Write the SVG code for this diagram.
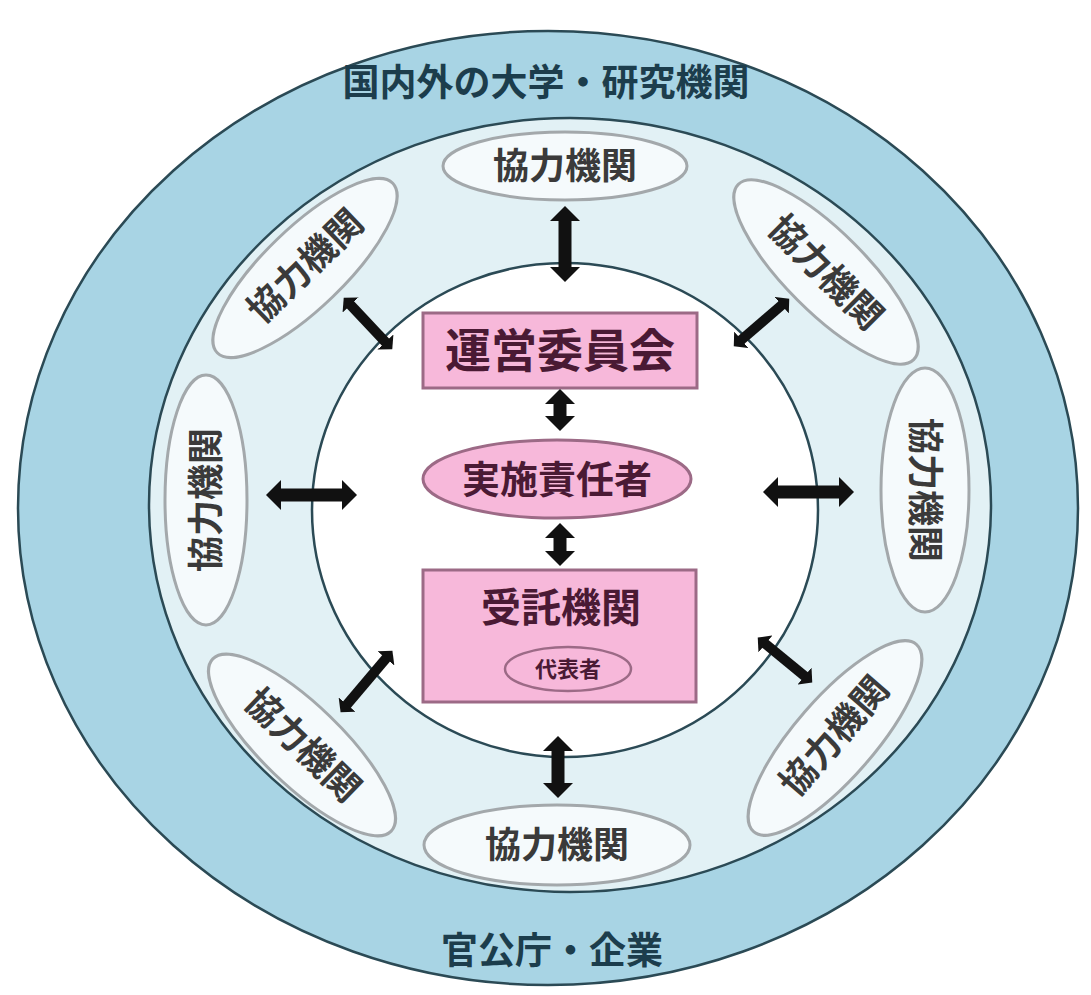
<svg xmlns="http://www.w3.org/2000/svg" width="1091" height="995" viewBox="0 0 1091 995">
<style>
.ring{stroke:#2b4a55;stroke-width:2.5}
.sat{fill:#f5fafc;stroke:#a3a8ab;stroke-width:3}
.satt{font-family:"Noto Sans CJK JP",sans-serif;font-size:36px;font-weight:bold;fill:#3a3a3a;text-anchor:middle}
.ot{font-family:"Noto Sans CJK JP",sans-serif;font-size:37px;font-weight:bold;fill:#1c3d4c;text-anchor:middle}
.pk{fill:#f7b8da;stroke:#9c6a86;stroke-width:3}
.pt{font-family:"Noto Sans CJK JP",sans-serif;font-weight:bold;fill:#4a1a34;text-anchor:middle}
.ar{stroke:#111;stroke-width:13;fill:none}
.ard{stroke:#111;stroke-width:10;fill:none}
</style>
<defs>
<marker id="ah" markerUnits="userSpaceOnUse" markerWidth="16" markerHeight="30" refX="1" refY="15" orient="auto-start-reverse"><path d="M0,0 L15,15 L0,30 z" fill="#111"/></marker>
<marker id="ahs" markerUnits="userSpaceOnUse" markerWidth="11" markerHeight="22" refX="1" refY="11" orient="auto-start-reverse"><path d="M0,0 L10,11 L0,22 z" fill="#111"/></marker>
</defs>
<rect width="1091" height="995" fill="#ffffff"/>
<g id="outer">
<ellipse cx="548" cy="508" rx="530" ry="477" fill="#a8d4e4" class="ring"/>
<text class="ot" x="546" y="96">国内外の大学・研究機関</text>
<text class="ot" x="552" y="964">官公庁・企業</text>
</g>
<g id="middle">
<ellipse cx="570" cy="505" rx="421" ry="387" fill="#e2f1f5" class="ring"/>
</g>
<g id="inner">
<ellipse cx="565" cy="510" rx="253" ry="247" fill="#ffffff" class="ring"/>
</g>
<g id="sat-top"><ellipse class="sat" cx="565" cy="166" rx="122" ry="34"/><text class="satt" x="565" y="179">協力機関</text></g>
<g id="sat-bottom"><ellipse class="sat" cx="557" cy="845" rx="133" ry="40"/><text class="satt" x="557" y="858">協力機関</text></g>
<g id="sat-left"><ellipse class="sat" cx="206" cy="500" rx="41" ry="125"/><text class="satt" transform="translate(206,500) rotate(-90)" y="13">協力機関</text></g>
<g id="sat-right"><ellipse class="sat" cx="925" cy="490" rx="44" ry="122"/><text class="satt" transform="translate(925,490) rotate(90)" y="13">協力機関</text></g>
<g id="sat-tl"><ellipse class="sat" transform="translate(305,268) rotate(-44)" rx="122" ry="40"/><text class="satt" transform="translate(305,266) rotate(-44)" y="13">協力機関</text></g>
<g id="sat-tr"><ellipse class="sat" transform="translate(826,272) rotate(45)" rx="124" ry="40"/><text class="satt" transform="translate(826,272) rotate(45)" y="13">協力機関</text></g>
<g id="sat-bl"><ellipse class="sat" transform="translate(302,745) rotate(44)" rx="124" ry="40"/><text class="satt" transform="translate(303,745) rotate(44)" y="13">協力機関</text></g>
<g id="sat-br"><ellipse class="sat" transform="translate(835,738) rotate(-49)" rx="124" ry="40"/><text class="satt" transform="translate(834,736) rotate(-49)" y="13">協力機関</text></g>
<g id="unei"><rect class="pk" x="423" y="313" width="274" height="75"/><text class="pt" x="560" y="367" font-size="46">運営委員会</text></g>
<g id="jisshi"><ellipse class="pk" cx="557" cy="479" rx="134" ry="39"/><text class="pt" x="557" y="493" font-size="38">実施責任者</text></g>
<g id="jutaku"><rect class="pk" x="423" y="570" width="273" height="132"/><text class="pt" x="561" y="622" font-size="40">受託機関</text>
<ellipse cx="568" cy="669" rx="63" ry="22" fill="#f7b8da" stroke="#9c6a86" stroke-width="2.5"/><text class="pt" x="568" y="677" font-size="22">代表者</text></g>
<g id="connectors">
<line class="ar" x1="565" y1="220" x2="565" y2="268" marker-start="url(#ah)" marker-end="url(#ah)"/>
<line class="ar" x1="280" y1="495" x2="343" y2="495" marker-start="url(#ah)" marker-end="url(#ah)"/>
<line class="ar" x1="777" y1="492" x2="840" y2="492" marker-start="url(#ah)" marker-end="url(#ah)"/>
<line class="ar" x1="558" y1="750" x2="558" y2="784" marker-start="url(#ah)" marker-end="url(#ah)"/>
<line class="ar" x1="560" y1="403" x2="560" y2="417" marker-start="url(#ah)" marker-end="url(#ah)"/>
<line class="ar" x1="560" y1="537" x2="560" y2="552" marker-start="url(#ah)" marker-end="url(#ah)"/>
<line class="ard" x1="349.9" y1="304.3" x2="386.1" y2="342.7" marker-start="url(#ahs)" marker-end="url(#ahs)"/>
<line class="ard" x1="782.4" y1="304.5" x2="740.6" y2="340.5" marker-start="url(#ahs)" marker-end="url(#ahs)"/>
<line class="ard" x1="346.4" y1="705.3" x2="386.6" y2="657.7" marker-start="url(#ahs)" marker-end="url(#ahs)"/>
<line class="ard" x1="805.3" y1="676.7" x2="764.7" y2="643.3" marker-start="url(#ahs)" marker-end="url(#ahs)"/>
</g>
</svg>
